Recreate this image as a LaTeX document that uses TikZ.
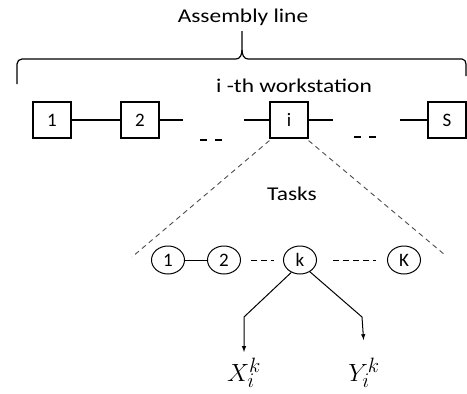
\documentclass[tikz,border=0pt]{standalone}
\usepackage{fontspec}
\setmainfont{Carlito}
\usetikzlibrary{arrows,shapes}

\tikzset{
  txt/.style={font=\fontsize{19.5}{22}\selectfont, xscale=1.2, inner sep=0pt},
  station/.style={draw, line width=1.2pt, minimum width=38pt, minimum height=36pt, inner sep=0pt, font=\fontsize{19}{20}\selectfont},
  task/.style={draw, ellipse, line width=1pt, minimum width=33pt, minimum height=28pt, inner sep=0pt, font=\fontsize{19}{20}\selectfont},
  var/.style={font=\fontsize{30}{32}\selectfont, inner sep=0pt},
  link/.style={line width=1.2pt},
  zoomline/.style={line width=0.9pt, gray!60!black, dash pattern=on 5pt off 4pt}
}

\begin{document}
\begin{tikzpicture}[x=1pt, y=-1pt]
      \useasboundingbox (0,0) rectangle (467,394);
      \node[txt] (title) at (243,17) {Assembly line};
      % brace over the whole line
      \draw[link] (17,84) -- (17,64) to[out=90, in=180] (22,59) -- (236,59)
            to[out=0, in=-90] (242,50) -- (242,31);
      \draw[link] (242,50) to[out=-90, in=180] (248,59) -- (462,59)
            to[out=0, in=90] (466,64) -- (466,76);
      \node[txt] (ith) at (294,86) {i -th workstation};
      % workstations
      \node[station] (s1) at (52,120) {1};
      \node[station] (s2) at (140,120) {2};
      \node[station] (si) at (289,120) {i};
      \node[station] (sS) at (447,120) {S};
      \coordinate (a2) at (183,120);
      \coordinate (bi) at (244,120);
      \coordinate (ai) at (333,120);
      \coordinate (bS) at (400,120);
      \draw[link] (s1) -- (s2);
      \draw[link] (s2) -- (a2);
      \draw[link] (bi) -- (si);
      \draw[link] (si) -- (ai);
      \draw[link] (bS) -- (sS);
      \draw[link, dash pattern=on 7pt off 8pt] (200,140) -- (223,140);
      \draw[link, dash pattern=on 7pt off 8pt] (354,137) -- (377,137);
      % zoom into the i-th station
      \coordinate (zl) at (132,257);
      \coordinate (zr) at (445,255);
      \draw[zoomline] ([yshift=-2pt]si.south west) -- (zl);
      \draw[zoomline] ([yshift=-2pt]si.south east) -- (zr);
      \node[txt] (tasks) at (292,194) {Tasks};
      % tasks
      \node[task] (t1) at (168,260) {1};
      \node[task] (t2) at (224,260) {2};
      \node[task] (tk) at (300,260) {k};
      \node[task] (tK) at (404,260) {K};
      \draw[line width=1pt] (t1) -- (t2);
      \draw[line width=1pt, dash pattern=on 6pt off 4pt, shorten <=10pt, shorten >=9pt] (t2) -- (tk);
      \draw[line width=1pt, dash pattern=on 6pt off 4pt, shorten <=16pt, shorten >=11pt] (tk) -- (tK);
      % decision variables
      \node[var] (X) at (244,373) {$X_i^k$};
      \node[var] (Y) at (364,373) {$Y_i^k$};
      \draw[line width=1pt, -latex, shorten >=6pt] (tk.-125) -- (244,317) -- (X.north);
      \draw[line width=1pt, -latex, shorten >=6pt] (tk.-50) -- (362,317) -- (362,346 -| Y.north);
   \end{tikzpicture}
\end{document}
